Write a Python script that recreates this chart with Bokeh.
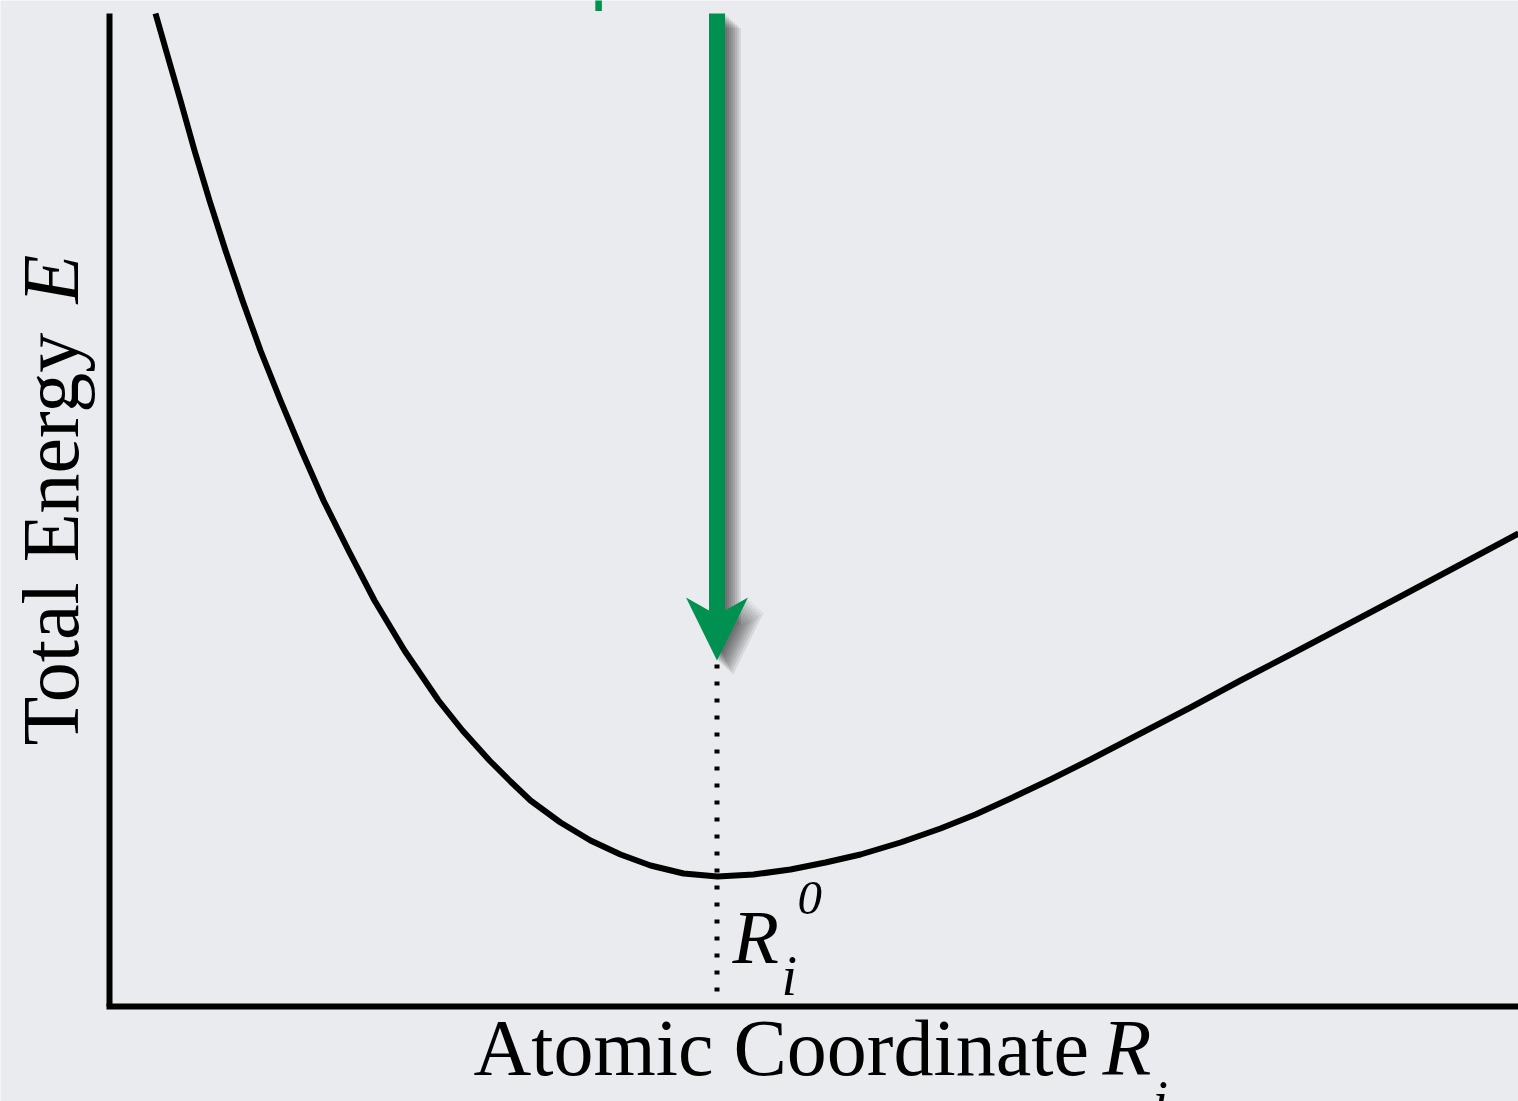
import math
from bokeh.plotting import figure
from bokeh.models import Range1d
from bokeh.core.properties import value
from bokeh.embed import file_html
from bokeh.resources import INLINE

# ---- data (arbitrary units) ----
coord = [0.46, 0.58, 0.71, 0.85, 1.00, 1.16, 1.33, 1.51, 1.71, 1.92, 2.14, 2.39, 2.65,
         2.95, 3.29, 3.53, 3.80, 4.01, 4.21, 4.51, 4.81, 5.11, 5.41, 5.74, 6.08,
         6.44, 6.81, 7.16, 7.51, 7.91, 8.31, 8.66, 9.01, 9.41, 9.81, 10.31, 10.81,
         11.31, 11.81, 12.36, 12.91, 13.51, 14.09]
energy = [9.93, 9.51, 9.06, 8.56, 8.06, 7.56, 7.06, 6.56, 6.06, 5.56, 5.06, 4.56, 4.06,
          3.56, 3.06, 2.76, 2.46, 2.25, 2.06, 1.84, 1.66, 1.52, 1.41, 1.33, 1.30,
          1.32, 1.37, 1.44, 1.52, 1.64, 1.78, 1.92, 2.08, 2.27, 2.47, 2.73, 2.99,
          3.26, 3.52, 3.81, 4.10, 4.42, 4.73]
r0 = 6.075            # equilibrium coordinate R_i^0
arrow_tip = 3.46      # energy level at which the arrow ends
x_max, e_max = 14.09, 9.93
x_label = ["Atomic Coordinate", "R", "i"]
y_label = ["Total Energy", "E"]
r0_label = ["R", "i", "0"]

BG = "#e9ebee"
GREEN = "#00904f"
SERIF = "Liberation Serif"

p = figure(width=1518, height=1101, output_backend="svg", toolbar_location=None,
           x_range=Range1d(-1.09, 14.09), y_range=Range1d(-0.95, 10.06),
           x_axis_type=None, y_axis_type=None,
           min_border=0, min_border_left=0, min_border_right=0,
           min_border_top=0, min_border_bottom=0,
           background_fill_color=BG, border_fill_color=BG, outline_line_color=None,
           styles={"position": "absolute", "left": "0px", "top": "0px"})
p.grid.visible = False

# ---- axes lines ----
p.line([0, 0], [0, e_max], line_width=6, color="black")
p.line([-0.03, x_max], [0, 0], line_width=6, color="black")

# ---- curve ----
p.line(coord, energy, line_width=6, color="black", line_join="round")

# ---- dotted line at equilibrium ----
p.line([r0, r0], [arrow_tip - 0.04, 0.0], line_width=5, color="black", line_dash="4 13")

# ---- arrow (shaft + swept-back head) ----
hw = 0.08     # half shaft width
ww = 0.31     # half head width
def arrow(dx=0.0, dy=0.0):
    xs = [r0 - hw, r0 - hw, r0 - ww, r0, r0 + ww, r0 + hw, r0 + hw]
    ys = [e_max, 3.96, 4.09, arrow_tip, 4.09, 3.96, e_max]
    return [x + dx for x in xs], [min(y + dy, e_max) for y in ys]

for k in range(1, 9):
    sx, sy = arrow(0.02 * k, -0.018 * k)
    p.patch(sx, sy, fill_color="black", fill_alpha=0.085, line_color=None)
ax_, ay_ = arrow()
p.patch(ax_, ay_, fill_color=GREEN, line_color=None)

# ---- labels ----
def lab(x, y, text, size, style="normal", angle=0.0, font=SERIF, color="black"):
    p.text(x=[x], y=[y], text=[text], text_font=value(font), text_font_size=size,
           text_font_style=style, text_color=color, angle=angle,
           text_align="left", text_baseline="alphabetic")

# x-axis title
lab(3.64, -0.41, x_label[0], "80px")
lab(9.93, -0.41, x_label[1], "80px", "italic")
lab(10.43, -0.944, x_label[2], "56px", "italic")

# y-axis title (rotated)
lab(-0.59, 2.61, y_label[0], "80px", angle=math.pi / 2)
lab(-0.59, 7.03, y_label[1], "80px", "italic", angle=math.pi / 2)

# R_i^0 label
lab(6.23, 0.696, r0_label[0], "76px", "italic")
lab(6.72, 0.306, r0_label[1], "56px", "italic")
lab(6.88, 1.082, r0_label[2], "49px", "italic")

# fragment of green title cut by the top edge
lab(4.79, 10.46, "p", "80px", font="Open Sans", color=GREEN)

open("out.html", "w").write(file_html(p, INLINE))
